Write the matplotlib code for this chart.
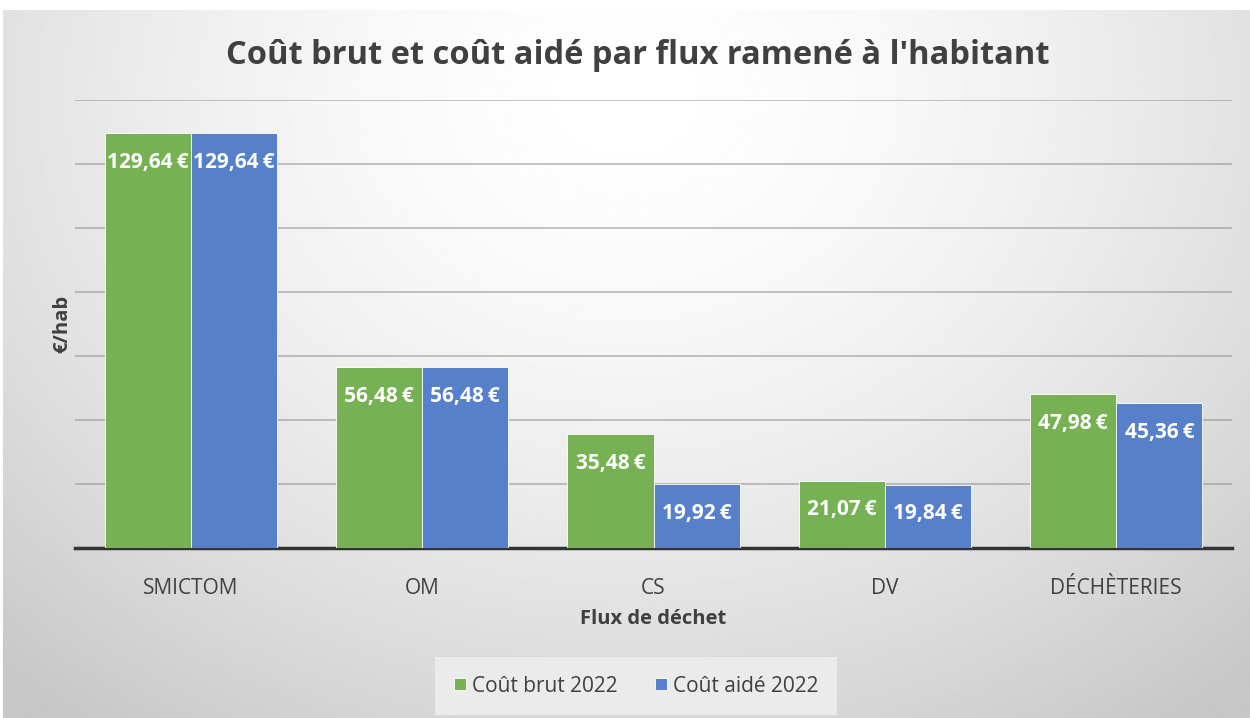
import numpy as np
import matplotlib
matplotlib.use("Agg")
import matplotlib.pyplot as plt

plt.rcParams['font.family'] = ['Open Sans', 'DejaVu Sans']

# data
categories = ["SMICTOM", "OM", "CS", "DV", "DÉCHÈTERIES"]
cout_brut = [129.64, 56.48, 35.48, 21.07, 47.98]
cout_aide = [129.64, 56.48, 19.92, 19.84, 45.36]
series_names = ["Coût brut 2022", "Coût aidé 2022"]

green = "#76b154"
blue = "#5780ca"

fig = plt.figure(figsize=(12.5, 7.18), dpi=100)

# radial gray background behind the chart area
bg = fig.add_axes([0.0024, 0, 0.9976, 1 - 10 / 718])
yy, xx = np.mgrid[0:1:300j, 0:1:500j]
r = np.sqrt(((xx - 0.5) / 0.75) ** 2 + ((yy - 0.12) / 1.1) ** 2)
grad = 1 - 0.22 * np.clip(r, 0, 1) ** 1.6
bg.imshow(grad, cmap="gray", vmin=0, vmax=1, aspect="auto", extent=[0, 1, 1, 0])
bg.set_axis_off()

ax = fig.add_axes([75 / 1250, 1 - 548 / 718, (1232 - 75) / 1250, (548 - 100) / 718])
ax.patch.set_alpha(0)

x = np.arange(len(categories))
w = 0.372
b1 = ax.bar(x - w / 2, cout_brut, w, color=green, edgecolor="white", linewidth=0.6,
            label=series_names[0], zorder=3)
b2 = ax.bar(x + w / 2, cout_aide, w, color=blue, edgecolor="white", linewidth=0.6,
            label=series_names[1], zorder=3)

# labels inside the top of each bar
for bars in (b1, b2):
    for rect in bars:
        v = rect.get_height()
        txt = f"{v:.2f}".replace(".", ",") + "\u2009€"
        ax.annotate(txt, (rect.get_x() + rect.get_width() / 2, v), xytext=(0, -21),
                    textcoords="offset points", ha="center", va="center",
                    color="white", fontsize=15, fontweight="bold", zorder=4)

ax.set_xlim(-0.5, len(categories) - 0.5)
ax.set_ylim(0, 140)
ax.set_yticks(np.arange(20, 141, 20))
ax.yaxis.grid(True, color="#8c8c8c", linewidth=1.2, alpha=0.6, zorder=0)
ax.tick_params(axis="y", left=False, labelleft=False)
ax.tick_params(axis="x", bottom=False, labelsize=15, labelcolor="#404040", pad=18)
ax.set_xticks(x)
ax.set_xticklabels(categories)
for s in ["top", "right", "left"]:
    ax.spines[s].set_visible(False)
ax.spines["bottom"].set_color("#333333")
ax.spines["bottom"].set_linewidth(2.5)

ax.set_xlabel("Flux de déchet", fontsize=14.5, fontweight="bold", color="#404040", labelpad=7)
ax.set_ylabel("€/hab", fontsize=14.5, fontweight="bold", color="#404040", labelpad=2)

fig.text(0.51, 1 - 55 / 718, "Coût brut et coût aidé par flux ramené à l'habitant",
         ha="center", va="center", fontsize=23.5, fontweight="bold", color="#404040")

leg = fig.legend(loc="center", bbox_to_anchor=(0.509, 1 - 686 / 718), ncol=2,
                 frameon=True, fontsize=15, handlelength=0.55, handleheight=0.55,
                 handletextpad=0.3, columnspacing=1.8, borderpad=0.1)
leg.get_frame().set_facecolor("#ebebeb")
leg.get_frame().set_edgecolor("none")
leg.get_frame().set_alpha(1)
leg.get_frame().set_boxstyle("square", pad=0.8)
for t in leg.get_texts():
    t.set_color("#404040")

fig.savefig("out.png", dpi=100)
